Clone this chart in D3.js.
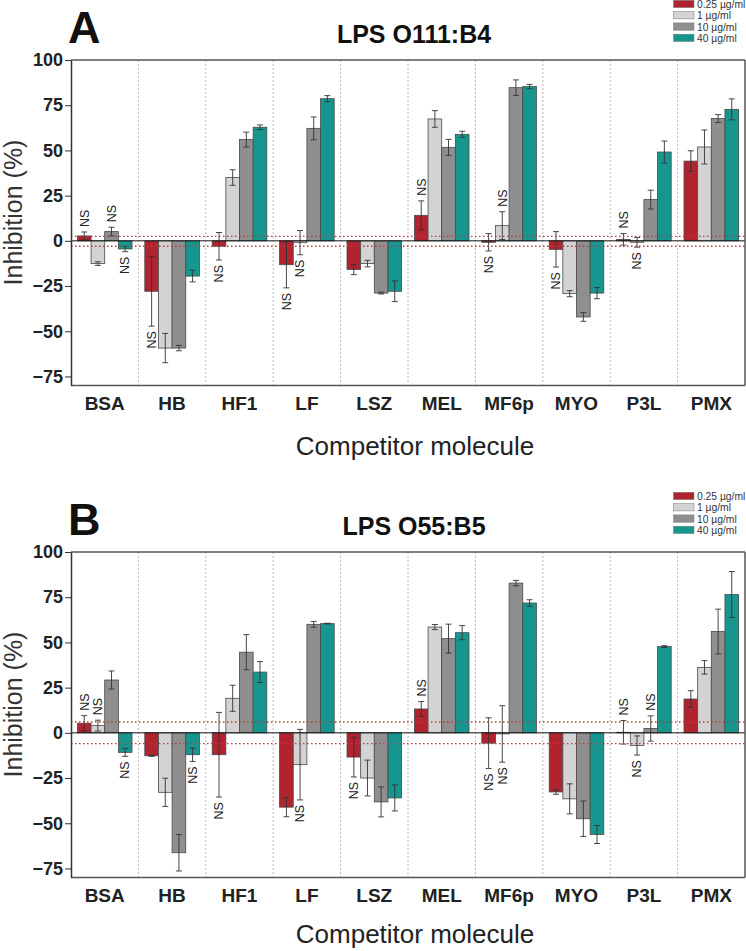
<!DOCTYPE html>
<html><head><meta charset="utf-8">
<script src="https://cdn.jsdelivr.net/npm/d3@7/dist/d3.min.js"></script>
<style>body{margin:0;background:#fff}svg{display:block}</style>
</head><body><svg id="c" width="746" height="951"></svg>
<script>
// ---------- data ----------
const categories = ["BSA","HB","HF1","LF","LSZ","MEL","MF6p","MYO","P3L","PMX"];
const seriesLabels = ["0.25 µg/ml","1 µg/ml","10 µg/ml","40 µg/ml"];
const seriesColors = ["#b1232e","#d3d3d3","#8f8f8f","#17968f"];
const yTicks = [-75,-50,-25,0,25,50,75,100];
const yDomain = [-80, 100];

// Panel A: LPS O111:B4
const titleA = "LPS O111:B4";
const letterA = "A";
const valsA_025 = [2.7, -27.9, -3.0, -13.2, -15.9, 14.1, -0.8, -4.7, 0.8, 44.1];
const valsA_1   = [-12.6, -59.3, 35.0, -1.0, -12.6, 67.4, 8.4, -29.2, -0.8, 51.9];
const valsA_10  = [5.1, -59.3, 56.0, 62.2, -28.9, 51.7, 84.7, -42.1, 22.8, 67.6];
const valsA_40  = [-4.5, -19.5, 62.8, 78.6, -27.9, 58.9, 85.3, -28.9, 49.1, 72.7];
const errA_025  = [2.2, 19.3, 7.6, 12.8, 2.8, 8.0, 4.8, 9.8, 3.2, 5.7];
const errA_1    = [1.0, 8.1, 4.3, 6.7, 1.8, 4.6, 7.7, 1.7, 2.7, 9.4];
const errA_10   = [2.4, 1.5, 4.1, 6.3, 0.5, 4.4, 4.3, 2.4, 5.2, 2.2];
const errA_40   = [1.5, 3.2, 1.3, 1.7, 5.7, 1.7, 1.2, 3.1, 6.1, 5.8];
const nsA = [["BSA",0],["BSA",2],["BSA",3],["HB",0],["HF1",0],["LF",0],["LF",1],["MEL",0],["MF6p",0],["MF6p",1],["MYO",0],["P3L",0],["P3L",1]];
const thresholdA = [2.5, -3];

// Panel B: LPS O55:B5
const titleB = "LPS O55:B5";
const letterB = "B";
const valsB_025 = [5.3, -12.7, -12.1, -41.1, -13.4, 13.2, -5.7, -32.7, 0.3, 18.7];
const valsB_1   = [4.0, -32.9, 19.1, -17.6, -25.0, 58.5, -0.6, -36.5, -7.0, 36.2];
const valsB_10  = [29.2, -66.3, 44.6, 60.0, -38.2, 52.1, 82.8, -47.5, 2.4, 56.0];
const valsB_40  = [-10.8, -12.1, 33.6, 60.4, -36.0, 55.4, 71.8, -56.2, 47.7, 76.5];
const errB_025  = [4.2, 0.3, 23.4, 5.3, 11.0, 4.1, 14.0, 1.3, 6.5, 4.6];
const errB_1    = [3.0, 7.8, 7.2, 19.5, 9.9, 1.4, 15.6, 8.3, 5.3, 3.7];
const errB_10   = [5.0, 10.1, 9.7, 1.6, 8.3, 8.0, 1.5, 9.8, 7.0, 12.4];
const errB_40   = [2.2, 3.7, 5.8, 0.2, 7.2, 3.9, 1.8, 5.0, 0.5, 12.7];
const nsB = [["BSA",0],["BSA",1],["BSA",3],["HB",3],["HF1",0],["LF",1],["LSZ",0],["MEL",0],["MF6p",0],["MF6p",1],["P3L",0],["P3L",1],["P3L",2]];
const thresholdB = [6, -6];

const xTitle = "Competitor molecule";
const yTitle = "Inhibition (%)";

// ---------- drawing ----------
const FONT = "'Liberation Sans', Arial, sans-serif";
const svg = d3.select("#c");

function drawPanel(off, letter, title, vals, errs, ns, thr, xTitleY) {
  const g = svg.append("g").attr("transform", `translate(0,${off})`);
  const left = 71, right = 745, top = 60, bottom = 385.5;
  const x = d3.scaleBand().domain(categories).range([left, right]).paddingInner(0.19).paddingOuter(0.095);
  const xs = d3.scaleBand().domain(d3.range(4)).range([0, x.bandwidth()]);
  const y = d3.scaleLinear().domain(yDomain).range([bottom, top]);

  // dividers
  const step = x.step(), gap = step - x.bandwidth();
  categories.slice(0, -1).forEach(c => {
    const xx = x(c) + x.bandwidth() + gap / 2;
    g.append("line").attr("x1", xx).attr("x2", xx).attr("y1", top).attr("y2", bottom)
      .attr("stroke", "#a8a8a8").attr("stroke-width", 0.8).attr("stroke-dasharray", "2,2");
  });

  // bars
  const rows = [];
  categories.forEach((c, i) => vals.forEach((s, k) => rows.push({c, k, v: s[i], e: errs[k][i]})));
  g.selectAll("rect.bar").data(rows).enter().append("rect")
    .attr("x", d => x(d.c) + xs(d.k))
    .attr("width", xs.bandwidth())
    .attr("y", d => y(Math.max(0, d.v)))
    .attr("height", d => Math.abs(y(d.v) - y(0)))
    .attr("fill", d => seriesColors[d.k])
    .attr("stroke", "#4a4a4a").attr("stroke-width", 0.8);

  // error bars
  rows.forEach(d => {
    const cx = x(d.c) + xs(d.k) + xs.bandwidth() / 2;
    const y1 = y(d.v + d.e), y2 = y(d.v - d.e);
    g.append("line").attr("x1", cx).attr("x2", cx).attr("y1", y1).attr("y2", y2).attr("stroke", "#333").attr("stroke-width", 0.9);
    [y1, y2].forEach(yy => g.append("line").attr("x1", cx - 3).attr("x2", cx + 3).attr("y1", yy).attr("y2", yy).attr("stroke", "#333").attr("stroke-width", 0.9));
  });

  // threshold dotted lines
  thr.forEach(t => g.append("line").attr("x1", left).attr("x2", right).attr("y1", y(t)).attr("y2", y(t))
    .attr("stroke", "#d0303f").attr("stroke-width", 1.3).attr("stroke-dasharray", "1.5,2.5"));

  // zero line
  g.append("line").attr("x1", left).attr("x2", right).attr("y1", y(0)).attr("y2", y(0)).attr("stroke", "#111").attr("stroke-width", 1);

  // NS labels
  ns.forEach(([c, k]) => {
    const i = categories.indexOf(c);
    const v = vals[k][i], e = errs[k][i];
    const cx = x(c) + xs(k) + xs.bandwidth() / 2;
    const up = v >= 0;
    const yy = up ? y(v + e) - 5 : y(v - e) + 5;
    g.append("text").attr("transform", `translate(${cx + 4.3},${yy}) rotate(-90)`)
      .attr("text-anchor", up ? "start" : "end")
      .attr("font-family", FONT).attr("font-size", 12.5).attr("fill", "#222").text("NS");
  });

  // frame
  g.append("line").attr("x1", left).attr("x2", right).attr("y1", top).attr("y2", top).attr("stroke", "#555").attr("stroke-width", 1.5);
  g.append("line").attr("x1", right).attr("x2", right).attr("y1", top).attr("y2", bottom).attr("stroke", "#555").attr("stroke-width", 1.5);
  g.append("line").attr("x1", left).attr("x2", right).attr("y1", bottom).attr("y2", bottom).attr("stroke", "#555").attr("stroke-width", 1.5);

  // y axis
  const ax = g.append("g").attr("transform", `translate(${left},0)`)
    .call(d3.axisLeft(y).tickValues(yTicks).tickSize(6).tickSizeOuter(0).tickPadding(2));
  ax.select(".domain").attr("stroke", "#333").attr("stroke-width", 1.5);
  ax.selectAll(".tick line").attr("stroke", "#333").attr("stroke-width", 1);
  ax.selectAll(".tick text").attr("font-family", FONT).attr("font-size", 18).attr("font-weight", "bold").attr("fill", "#222");

  // category labels
  categories.forEach(c => g.append("text").attr("x", x(c) + x.bandwidth() / 2).attr("y", 409.5)
    .attr("text-anchor", "middle").attr("font-family", FONT).attr("font-size", 19).attr("font-weight", "bold").attr("fill", "#222").text(c));

  // titles
  g.append("text").attr("x", 415).attr("y", xTitleY).attr("text-anchor", "middle").attr("font-family", FONT).attr("font-size", 26).attr("fill", "#222").text(xTitle);
  g.append("text").attr("transform", "translate(22,212.5) rotate(-90)").attr("text-anchor", "middle").attr("font-family", FONT).attr("font-size", 25).attr("fill", "#333").text(yTitle);
  g.append("text").attr("x", 414).attr("y", 43).attr("text-anchor", "middle").attr("font-family", FONT).attr("font-size", 25).attr("font-weight", "bold").attr("fill", "#111").text(title);
  g.append("text").attr("x", 68).attr("y", 43.3).attr("font-family", FONT).attr("font-size", 45).attr("font-weight", "bold").attr("fill", "#111").text(letter);

  // legend
  const lg = g.append("g");
  seriesLabels.forEach((s, k) => {
    const yy = 0.3 + k * 11.3;
    lg.append("rect").attr("x", 673.5).attr("y", yy).attr("width", 20.5).attr("height", 7.3)
      .attr("fill", seriesColors[k]).attr("stroke", "#777").attr("stroke-width", 0.5);
    lg.append("text").attr("x", 697).attr("y", yy + 7.6).attr("font-family", FONT).attr("font-size", 10.3).attr("fill", "#333").text(s);
  });
}

drawPanel(0, letterA, titleA, [valsA_025, valsA_1, valsA_10, valsA_40], [errA_025, errA_1, errA_10, errA_40], nsA, thresholdA, 455);
drawPanel(492, letterB, titleB, [valsB_025, valsB_1, valsB_10, valsB_40], [errB_025, errB_1, errB_10, errB_40], nsB, thresholdB, 451);
</script></body></html>
